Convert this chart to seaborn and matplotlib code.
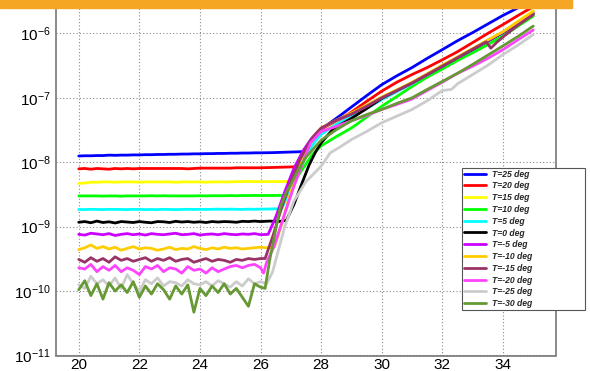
import numpy as np
import pandas as pd
import matplotlib
matplotlib.use("Agg")
import matplotlib.pyplot as plt
import seaborn as sns
from matplotlib.ticker import LogLocator, MultipleLocator, NullFormatter, FixedLocator
from matplotlib.patches import Rectangle
from matplotlib.font_manager import FontProperties

# ---------------- data ----------------
labels = ["T=25 deg", "T=20 deg", "T=15 deg", "T=10 deg", "T=5 deg", "T=0 deg",
          "T=-5 deg", "T=-10 deg", "T=-15 deg", "T=-20 deg", "T=-25 deg", "T=-30 deg"]
colors = ["#0000FF", "#FF0000", "#FFFF00", "#00FF00", "#00FFFF", "#000000",
          "#CC00FF", "#FFCC00", "#993366", "#FF44FF", "#CCCCCC", "#669933"]

base_x = np.linspace(20.0, 26.0, 31)

blue_base = [1.25, 1.26, 1.26, 1.27, 1.27, 1.29, 1.28, 1.29, 1.29, 1.30, 1.30, 1.31, 1.31, 1.32, 1.32, 1.33,
             1.33, 1.34, 1.34, 1.35, 1.35, 1.36, 1.36, 1.37, 1.37, 1.38, 1.38, 1.39, 1.39, 1.40, 1.40]  # x1e-8
red_base = [7.9, 8.0, 7.8, 8.0, 7.9, 7.8, 8.0, 7.9, 8.0, 7.9, 8.0, 8.0, 8.0, 8.0, 8.0, 8.0,
            8.0, 8.0, 7.9, 8.0, 8.1, 8.1, 8.1, 8.1, 8.1, 8.1, 8.2, 8.2, 8.2, 8.2, 8.2]  # x1e-9
yellow_base = [4.7, 4.75, 4.9, 4.9, 4.95, 4.95, 4.9, 4.95, 4.95, 4.95, 4.9, 4.95, 4.95, 4.95, 4.95, 4.95,
               4.9, 4.95, 4.95, 4.95, 4.95, 4.9, 4.95, 4.95, 4.95, 4.95, 5.0, 5.0, 5.05, 5.0, 5.0]  # x1e-9
green_base = [3.0, 3.0, 3.0, 3.0, 2.98, 3.0, 3.0, 2.97, 3.0, 3.0, 3.0, 3.0, 3.02, 3.0, 3.02, 3.0,
              3.0, 3.0, 3.0, 3.0, 3.02, 3.0, 3.02, 3.02, 3.02, 3.04, 3.02, 3.04, 3.04, 3.05, 3.04]  # x1e-9
cyan_base = [1.85, 1.84, 1.86, 1.85, 1.84, 1.86, 1.85, 1.85, 1.84, 1.86, 1.85, 1.84, 1.85, 1.84, 1.86, 1.85,
             1.84, 1.85, 1.86, 1.85, 1.86, 1.85, 1.86, 1.87, 1.86, 1.87, 1.86, 1.85, 1.87, 1.86, 1.87]  # x1e-9
black_base = [1.17, 1.20, 1.15, 1.22, 1.16, 1.19, 1.14, 1.20, 1.18, 1.16, 1.20, 1.17, 1.15, 1.20, 1.19, 1.16,
              1.21, 1.18, 1.20, 1.17, 1.19, 1.16, 1.20, 1.18, 1.20, 1.19, 1.17, 1.21, 1.20, 1.22, 1.20]  # x1e-9
purple_base = [7.6, 7.4, 7.9, 7.7, 7.5, 7.8, 7.3, 7.6, 7.8, 7.5, 7.7, 7.4, 7.8, 7.6, 7.5, 7.7,
               7.9, 7.5, 7.6, 7.8, 7.4, 7.6, 7.7, 7.5, 7.8, 7.6, 7.5, 7.7, 7.6, 7.8, 7.5]  # x1e-10
orange_base = [4.4, 4.7, 5.2, 4.6, 4.9, 4.5, 4.8, 4.3, 4.6, 4.9, 4.5, 4.7, 4.6, 4.3, 4.5, 4.8,
               4.4, 4.6, 4.5, 4.9, 4.6, 4.4, 4.7, 4.5, 4.8, 4.6, 4.7, 4.5, 4.6, 4.7, 4.8]  # x1e-10
maroon_base = [3.1, 2.8, 3.3, 2.9, 3.2, 2.8, 3.4, 3.0, 3.2, 2.9, 3.1, 3.3, 2.9, 3.2, 3.0, 3.3,
               2.9, 3.1, 3.2, 2.8, 3.0, 3.2, 2.9, 3.1, 3.0, 2.8, 3.1, 3.0, 3.2, 3.1, 3.2]  # x1e-10
pink_base = [2.3, 2.2, 2.6, 2.0, 2.4, 2.1, 2.5, 2.0, 2.3, 2.1, 1.8, 2.4, 2.2, 2.5, 2.0, 2.3,
             2.2, 1.9, 2.4, 2.1, 2.2, 1.9, 2.3, 2.0, 2.2, 2.4, 2.5, 2.3, 2.5, 2.6, 2.3]  # x1e-10
gray_base = [1.25, 1.1, 1.7, 1.3, 1.5, 1.2, 1.6, 1.1, 1.8, 1.3, 1.0, 1.5, 1.3, 1.6, 1.2, 1.4,
             1.35, 1.2, 1.5, 1.3, 1.25, 1.4, 1.2, 1.45, 1.3, 1.15, 1.4, 1.2, 1.55, 1.3, 1.4]  # x1e-10
olive_base = [1.05, 1.45, 0.85, 1.3, 0.75, 1.35, 1.0, 1.25, 0.95, 1.4, 0.8, 1.2, 0.9, 1.3, 1.05, 0.75,
              1.2, 0.9, 1.25, 0.47, 1.1, 0.85, 1.2, 0.95, 1.3, 0.9, 1.1, 0.8, 0.58, 1.3, 1.15]  # x1e-10

blue_tx = [26.4, 26.8, 27.2, 27.45, 27.7, 27.9, 28.2, 28.6, 29.0, 29.5, 30.0, 30.5, 31.0, 31.5, 32.0, 32.5, 33.0, 33.5, 34.0, 34.5, 35.0]
blue_ty = [1.41e-8, 1.43e-8, 1.45e-8, 1.46e-8, 2.0e-8, 2.8e-8, 3.8e-8, 5.2e-8, 7.2e-8, 1.08e-7, 1.6e-7, 2.2e-7,
           2.95e-7, 4.1e-7, 5.6e-7, 7.7e-7, 1.03e-6, 1.4e-6, 1.9e-6, 2.5e-6, 3.3e-6]
red_tx = [26.4, 26.8, 27.15, 27.4, 27.7, 28.0, 28.5, 29.0, 29.5, 30.0, 30.5, 31.0, 31.5, 32.0, 32.5, 33.0, 33.5, 34.0, 34.5, 35.0]
red_ty = [8.3e-9, 8.4e-9, 8.5e-9, 1.3e-8, 2.0e-8, 2.9e-8, 4.3e-8, 6.0e-8, 8.8e-8, 1.27e-7, 1.75e-7, 2.3e-7,
          2.95e-7, 3.9e-7, 5.2e-7, 7.2e-7, 1.0e-6, 1.37e-6, 1.9e-6, 2.6e-6]
yellow_tx = [26.5, 27.0, 27.3, 27.6, 27.8, 28.0, 28.5, 29.0, 29.5, 30.0, 30.5, 31.0, 31.5, 32.0, 32.5, 33.0, 33.5, 34.0, 34.5, 35.0]
yellow_ty = [5.0e-9, 5.05e-9, 9e-9, 1.7e-8, 2.3e-8, 2.9e-8, 4.1e-8, 5.4e-8, 7.3e-8, 1.0e-7, 1.32e-7, 1.72e-7,
             2.35e-7, 3.2e-7, 4.3e-7, 5.8e-7, 7.8e-7, 1.05e-6, 1.55e-6, 2.25e-6]
green_tx = [26.4, 26.8, 27.1, 27.4, 27.7, 28.0, 28.5, 29.0, 29.5, 30.0, 30.5, 31.0, 31.5, 32.0, 32.5, 33.0, 33.5, 34.0, 34.5, 35.0]
green_ty = [3.05e-9, 3.05e-9, 5e-9, 8e-9, 1.3e-8, 1.8e-8, 2.5e-8, 3.4e-8, 5e-8, 7.4e-8, 1.05e-7, 1.5e-7,
            2.1e-7, 2.8e-7, 3.8e-7, 5.0e-7, 6.7e-7, 9.1e-7, 1.3e-6, 1.86e-6]
cyan_tx = [26.3, 26.7, 27.0, 27.3, 27.6, 27.8, 28.0, 28.5, 29.0, 29.5, 30.0, 30.5, 31.0, 31.5, 32.0, 32.5, 33.0, 33.5, 34.0, 34.5, 35.0]
cyan_ty = [1.88e-9, 1.9e-9, 4e-9, 8e-9, 1.5e-8, 2.1e-8, 2.7e-8, 3.9e-8, 5.1e-8, 6.9e-8, 9.4e-8, 1.25e-7, 1.65e-7,
           2.3e-7, 3.1e-7, 4.2e-7, 5.6e-7, 7.6e-7, 1.02e-6, 1.45e-6, 2.05e-6]
black_tx = [26.3, 26.6, 26.85, 27.1, 27.35, 27.6, 27.8, 28.0, 28.4, 29.0, 29.5, 30.0, 30.5, 31.0, 31.5, 32.0, 32.5, 33.0, 33.5, 34.0, 34.5, 35.0]
black_ty = [1.22e-9, 1.2e-9, 1.25e-9, 2.2e-9, 4.5e-9, 9e-9, 1.4e-8, 2.0e-8, 3.3e-8, 4.8e-8, 6.8e-8, 9.8e-8, 1.3e-7,
            1.7e-7, 2.3e-7, 3.1e-7, 4.2e-7, 5.6e-7, 7.6e-7, 1.03e-6, 1.45e-6, 2.0e-6]
purple_tx = [26.25, 26.5, 26.8, 27.1, 27.4, 27.7, 28.0, 28.5, 29.0, 29.5, 30.0, 30.5, 31.0, 31.5, 32.0, 32.5, 33.0, 33.5, 34.0, 34.5, 35.0]
purple_ty = [7.6e-10, 1.4e-9, 3.5e-9, 8e-9, 1.5e-8, 2.4e-8, 3.3e-8, 4.4e-8, 5.6e-8, 7.4e-8, 1.0e-7, 1.3e-7,
             1.7e-7, 2.3e-7, 3.1e-7, 4.2e-7, 5.7e-7, 7.7e-7, 1.04e-6, 1.5e-6, 2.1e-6]
orange_tx = [26.2, 26.45, 26.7, 27.0, 27.3, 27.6, 27.8, 28.0, 28.5, 29.0, 29.5, 30.0, 30.5, 31.0, 31.5, 32.0, 32.5, 33.0, 33.5, 34.0, 34.5, 35.0]
orange_ty = [4.7e-10, 4.8e-10, 1.1e-9, 3.5e-9, 9e-9, 1.9e-8, 2.7e-8, 3.4e-8, 4.5e-8, 5.8e-8, 7.7e-8, 1.03e-7, 1.33e-7,
             1.74e-7, 2.35e-7, 3.2e-7, 4.3e-7, 5.8e-7, 7.9e-7, 1.06e-6, 1.52e-6, 2.2e-6]
maroon_tx = [26.15, 26.4, 26.7, 27.0, 27.3, 27.6, 27.8, 28.0, 28.5, 29.0, 29.5, 30.0, 30.5, 31.0, 31.5, 32.0, 32.5, 33.0, 33.45, 33.6, 33.8, 34.0, 34.5, 35.0]
maroon_ty = [3.2e-10, 7e-10, 2.0e-9, 5e-9, 1.1e-8, 2.0e-8, 2.7e-8, 3.4e-8, 4.5e-8, 5.6e-8, 7.4e-8, 1.0e-7, 1.3e-7,
             1.7e-7, 2.3e-7, 3.1e-7, 4.2e-7, 5.7e-7, 7.4e-7, 5.9e-7, 7.3e-7, 8.8e-7, 1.35e-6, 1.95e-6]
pink_tx = [26.1, 26.2, 26.45, 26.8, 27.1, 27.4, 27.65, 28.0, 28.5, 29.0, 29.5, 30.0, 30.5, 31.0, 31.5, 32.0, 32.5, 33.0, 33.5, 34.0, 34.5, 35.0]
pink_ty = [1.9e-10, 2.8e-10, 5e-10, 1.6e-9, 4.2e-9, 1.0e-8, 2.0e-8, 3.0e-8, 3.6e-8, 4.4e-8, 5.3e-8, 6.6e-8,
           7.9e-8, 9.6e-8, 1.3e-7, 1.75e-7, 2.4e-7, 3.1e-7, 4.1e-7, 5.6e-7, 8.0e-7, 1.13e-6]
gray_tx = [26.2, 26.4, 26.6, 26.8, 27.1, 27.5, 28.0, 28.3, 28.6, 29.0, 29.5, 30.0, 30.5, 31.0, 31.5, 32.0, 32.3, 32.5, 33.0, 33.5, 34.0, 34.5, 35.0]
gray_ty = [1.3e-10, 2.0e-10, 4.5e-10, 1.0e-9, 2.5e-9, 5.0e-9, 8.7e-9, 1.4e-8, 1.7e-8, 2.25e-8, 3.0e-8, 4.1e-8,
           5.2e-8, 6.6e-8, 9.0e-8, 1.3e-7, 1.35e-7, 1.65e-7, 2.3e-7, 3.2e-7, 4.7e-7, 6.6e-7, 9.6e-7]
olive_tx = [26.15, 26.3, 26.5, 26.65, 26.85, 27.0, 27.2, 27.5, 28.0, 28.5, 29.0, 29.5, 30.0, 30.5, 31.0, 31.5, 32.0, 32.5, 33.0, 33.5, 34.0, 34.5, 35.0]
olive_ty = [1.1e-10, 3e-10, 9e-10, 2.0e-9, 3.4e-9, 4.5e-9, 7e-9, 1.2e-8, 2.2e-8, 3.2e-8, 4.4e-8, 5.5e-8, 6.6e-8,
            8.2e-8, 1.0e-7, 1.35e-7, 1.8e-7, 2.4e-7, 3.3e-7, 4.6e-7, 6.4e-7, 9.0e-7, 1.3e-6]

series = [
    (blue_base, 1e-8, blue_tx, blue_ty),
    (red_base, 1e-9, red_tx, red_ty),
    (yellow_base, 1e-9, yellow_tx, yellow_ty),
    (green_base, 1e-9, green_tx, green_ty),
    (cyan_base, 1e-9, cyan_tx, cyan_ty),
    (black_base, 1e-9, black_tx, black_ty),
    (purple_base, 1e-10, purple_tx, purple_ty),
    (orange_base, 1e-10, orange_tx, orange_ty),
    (maroon_base, 1e-10, maroon_tx, maroon_ty),
    (pink_base, 1e-10, pink_tx, pink_ty),
    (gray_base, 1e-10, gray_tx, gray_ty),
    (olive_base, 1e-10, olive_tx, olive_ty),
]

xticks = [20, 22, 24, 26, 28, 30, 32, 34]

# ---------------- style ----------------
sns.set_theme(style="white")
plt.rcParams["font.family"] = ["Liberation Sans", "DejaVu Sans"]
plt.rcParams["mathtext.fontset"] = "custom"
plt.rcParams["mathtext.rm"] = "Liberation Sans"
plt.rcParams["mathtext.it"] = "Liberation Sans:italic"
plt.rcParams["mathtext.bf"] = "Liberation Sans:bold"

fig = plt.figure(figsize=(5.9, 3.71), dpi=100)
fig.patch.set_facecolor("white")
ax = fig.add_axes([56 / 590, 1 - 355.5 / 371, 500 / 590, 355.5 / 371])
ax.set_facecolor("white")

for (base, unit, tx, ty), lab, col in zip(series, labels, colors):
    xs = list(base_x) + list(tx)
    ys = [b * unit for b in base] + list(ty)
    df = pd.DataFrame({"x": xs, "y": ys})
    sns.lineplot(data=df, x="x", y="y", ax=ax, color=col, lw=1.45, label=lab,
                 estimator=None, sort=False, legend=False)

ax.set_yscale("log")
ax.set_xlim(19.25, 35.75)
ax.set_ylim(1e-11, 3.3e-6)
ax.set_xlabel("")
ax.set_ylabel("")

ax.xaxis.set_major_locator(FixedLocator(xticks))
ax.xaxis.set_minor_locator(MultipleLocator(0.5))
ax.yaxis.set_major_locator(LogLocator(base=10, numticks=20))
ax.yaxis.set_minor_locator(LogLocator(base=10, subs=np.arange(2, 10), numticks=20))
ax.yaxis.set_minor_formatter(NullFormatter())

ax.grid(True, which="major", linestyle=(0, (1, 2)), color="#8a8a8a", lw=0.8)
ax.tick_params(which="both", direction="in", top=False, right=False, colors="#222222",
               labelcolor="black", labelsize=11)
ax.tick_params(axis="y", which="major", length=10.5, width=1.0, pad=4)
ax.tick_params(axis="y", which="minor", length=5.8, width=0.9)
ax.tick_params(axis="x", which="major", length=7.7, width=1.0, pad=2)
ax.tick_params(axis="x", which="minor", length=3.4, width=0.9)
for s in ["left", "bottom", "right", "top"]:
    ax.spines[s].set_color("#777777")
    ax.spines[s].set_linewidth(1.2)

# legend
handles, labs = ax.get_legend_handles_labels()
for h in handles:
    h.set_linewidth(2.0)
prop = FontProperties(family="Liberation Sans", weight="bold", style="italic", size=6.2)
leg = ax.legend(handles, labs, loc="upper left",
                bbox_to_anchor=(462 / 590, 1 - 308 / 371, 123 / 590, 140 / 371),
                bbox_transform=fig.transFigure, mode="expand", prop=prop,
                frameon=True, fancybox=False, framealpha=1, edgecolor="#555555",
                handlelength=2.6, handletextpad=0.7, labelspacing=0.32,
                borderpad=0.2, borderaxespad=0)
leg.get_frame().set_linewidth(0.8)

# orange top band
fig.add_artist(Rectangle((0, 1 - 8 / 371), 572 / 590, 8 / 371, transform=fig.transFigure,
                         color="#F5A623", zorder=10))

fig.savefig("out.png", dpi=100)
